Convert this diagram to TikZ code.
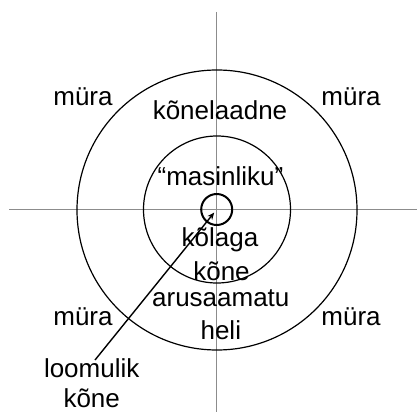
\documentclass[tikz,border=0pt]{standalone}
\usepackage{fontspec}
\setmainfont{Liberation Sans}
\usetikzlibrary{arrows.meta,calc}
\begin{document}
\begin{tikzpicture}[x=1pt,y=-1pt,
  lbl/.style={inner sep=0pt,anchor=base,font=\fontsize{26}{30}\selectfont},
  axis/.style={draw=black!45,line width=0.9pt},
  ring/.style={draw=black,line width=1.2pt},
  arr/.style={draw=black,line width=1.4pt,-{Stealth[length=7pt,width=6pt]}}]
\useasboundingbox (0,0) rectangle (417,412);
% axes
\coordinate (vt) at (216.5,12);
\coordinate (vb) at (216.5,412);
\coordinate (hl) at (9,209.7);
\coordinate (hr) at (417,209.7);
\draw[axis] (vt) -- (vb);
\draw[axis] (hl) -- (hr);
% circles
\node[ring,circle,minimum size=280pt,inner sep=0pt] (outer) at (217,210) {};
\node[ring,circle,minimum size=147pt,inner sep=0pt] (middle) at (217,209.5) {};
\node[draw=black,line width=2pt,circle,minimum size=31pt,inner sep=0pt] (c0) at (216.7,209.5) {};
% labels
\node[lbl] (m1) at (83,105) {müra};
\node[lbl] (m2) at (351,105) {müra};
\node[lbl] (m3) at (83,325) {müra};
\node[lbl] (m4) at (351,325) {müra};
\node[lbl] (kl) at (220,119.5) {kõnelaadne};
\node[lbl] (ms) at (220.5,185) {“masinliku”};
\node[lbl] (kg1) at (220,246.5) {kõlaga};
\node[lbl] (kg2) at (221.5,280) {kõne};
\node[lbl] (ar1) at (220.8,306.5) {arusaamatu};
\node[lbl] (ar2) at (220.8,339.5) {heli};
\node[lbl] (lo1) at (91.7,377) {loomulik};
\node[lbl] (lo2) at (91.7,407) {kõne};
% arrow
\coordinate (start) at (95,360);
\draw[arr] (start) -- ($(c0.center)!4pt!(start)$);
\end{tikzpicture}
\end{document}
